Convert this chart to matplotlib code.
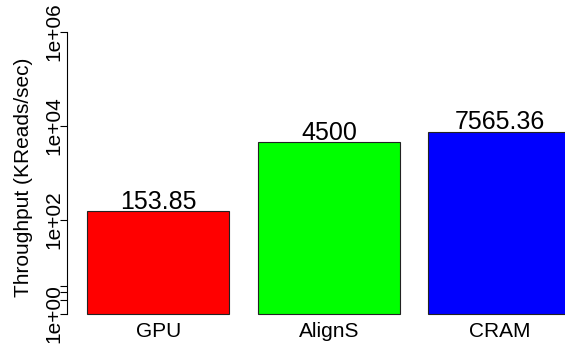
import matplotlib
matplotlib.use("Agg")
import matplotlib.pyplot as plt
import matplotlib.transforms as mtransforms

plt.rcParams['font.family'] = ['Liberation Sans', 'DejaVu Sans']

# Throughput per platform
categories = ["GPU", "AlignS", "CRAM"]
throughput = [153.85, 4500, 7565.36]
value_labels = ["153.85", "4500", "7565.36"]
bar_colors = ["#FF0000", "#00FF00", "#0000FF"]

# Axis ticks (log scale)
y_ticks = [1, 2, 3, 4, 1e2, 1e4, 1e6]
y_tick_labels = {1: "1e+00", 1e2: "1e+02", 1e4: "1e+04", 1e6: "1e+06"}

W, H = 565, 346
fig = plt.figure(figsize=(W / 100, H / 100), dpi=100)

# plot region in pixels
left_px, right_px, top_px, bottom_px = 67, 565, 32, 314
ax = fig.add_axes([left_px / W, (H - bottom_px) / H,
                   (right_px - left_px) / W, (bottom_px - top_px) / H])

# barplot layout: width 1, space 0.2
bar_width = 1.0
space = 0.2
x_pos = [space + i * (bar_width + space) + bar_width / 2 for i in range(len(categories))]

ax.bar(x_pos, [v - 1 for v in throughput], bottom=1, width=bar_width,
       color=bar_colors, edgecolor="#222222", linewidth=0.8, clip_on=False)

ax.set_yscale("log")
ax.set_ylim(1, 1e6)
ax.set_xlim(0.059, 3.56)

for s in ["top", "right", "bottom"]:
    ax.spines[s].set_visible(False)
ax.spines["left"].set_bounds(1, 1e6)
ax.spines["left"].set_linewidth(0.8)

ax.set_yticks(y_ticks)
ax.yaxis.set_minor_locator(matplotlib.ticker.NullLocator())
ax.set_yticklabels([""] * len(y_ticks))
ax.tick_params(axis="y", length=5.0, width=0.8, direction="out")

# y tick labels, parallel to the axis
lab_tr = mtransforms.blended_transform_factory(fig.transFigure, ax.transData)
for v, t in y_tick_labels.items():
    ax.text(59 / W, v, t, transform=lab_tr, rotation=90, rotation_mode="anchor",
            ha="center", va="baseline", fontsize=15, clip_on=False)

# category labels
ax.set_xticks(x_pos)
ax.set_xticklabels(categories, fontsize=15)
ax.tick_params(axis="x", length=0, pad=5.5)

# value labels above bars
for x, v, t in zip(x_pos, throughput, value_labels):
    ax.annotate(t, (x, v), xytext=(0, 1.6), textcoords="offset points",
                ha="center", va="baseline", fontsize=18, annotation_clip=False)

fig.text(29 / W, (H - 177) / H, "Throughput (KReads/sec)", rotation=90,
         rotation_mode="anchor", ha="center", va="baseline", fontsize=15)

fig.savefig("out.png", dpi=100)
